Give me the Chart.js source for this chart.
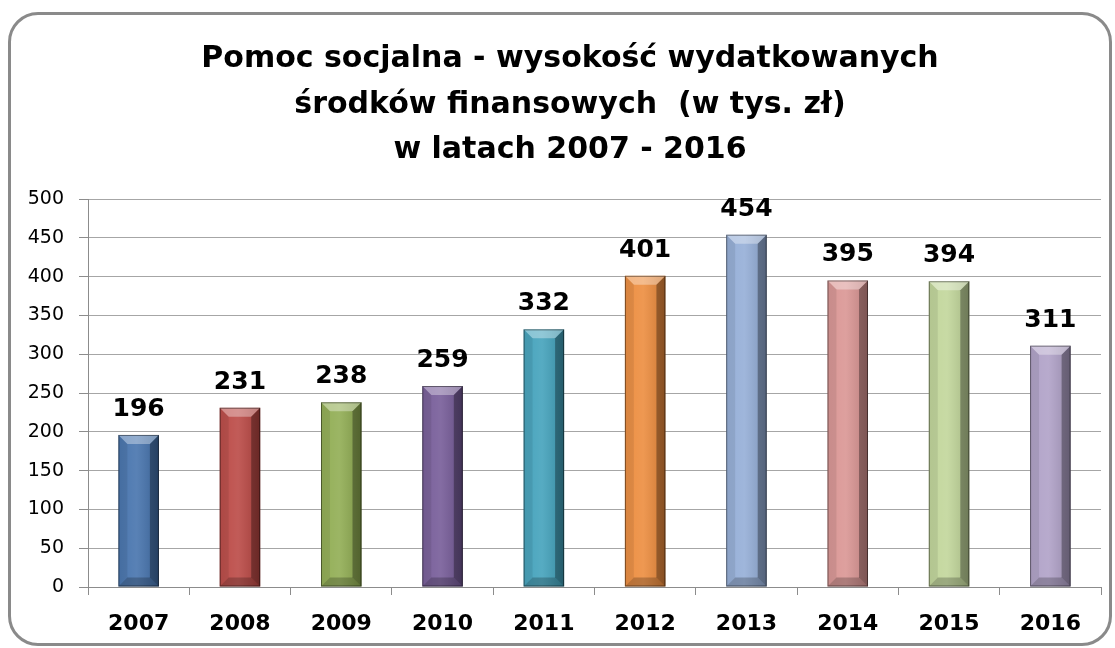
<!DOCTYPE html>
<html>
<head>
<meta charset="utf-8">
<script src="https://cdn.jsdelivr.net/npm/chart.js@4.4.0/dist/chart.umd.min.js"></script>
<style>
  html, body { margin: 0; padding: 0; background: #fff; }
  #wrap { position: relative; width: 1115px; height: 648px; }
  #frame {
    position: absolute; left: 8px; top: 12px; width: 1098px; height: 628px;
    border: 3px solid #8a8a8a; border-radius: 30px; pointer-events: none;
  }
  canvas { position: absolute; left: 0; top: 0; }
</style>
</head>
<body>
<div id="wrap">
  <canvas id="chart" width="1115" height="648"></canvas>
  <div id="frame"></div>
</div>
<script>
const years = ['2007', '2008', '2009', '2010', '2011', '2012', '2013', '2014', '2015', '2016'];
const amounts = [196, 231, 238, 259, 332, 401, 454, 395, 394, 311];
const barColors = ['#4270ab', '#b94541', '#8eab4f', '#735896', '#3fa0ba', '#ec8a3a', '#92acd6', '#d99391', '#c0d598', '#ae9fc6'];
const titleLines = ['Pomoc socjalna - wysokość wydatkowanych', 'środków finansowych  (w tys. zł)', 'w latach 2007 - 2016'];

const FONT = "'DejaVu Sans', 'Open Sans', sans-serif";

// title is drawn by hand: in the original it is not centred on the canvas
const titleText = {
    id: 'titleText',
    afterDraw(chart) {
        const ctx = chart.ctx;
        ctx.save();
        ctx.font = 'bold 30px ' + FONT;
        ctx.fillStyle = '#000';
        ctx.textAlign = 'center';
        ctx.textBaseline = 'alphabetic';
        titleLines.forEach((line, i) => ctx.fillText(line, 570, 67 + i * 45.5));
        ctx.restore();
    }
};

// bevel / shading over each bar, like the Excel style
const bevelPlugin = {
    id: 'bevel',
    afterDatasetsDraw(chart) {
        const ctx = chart.ctx;
        chart.getDatasetMeta(0).data.forEach(bar => {
            const x0 = bar.x - bar.width / 2;
            const x1 = bar.x + bar.width / 2;
            const y0 = bar.y;
            const y1 = bar.base;
            const b = 9;
            ctx.save();
            const g = ctx.createLinearGradient(x0, 0, x1, 0);
            g.addColorStop(0, 'rgba(255,255,255,0.05)');
            g.addColorStop(0.45, 'rgba(255,255,255,0.12)');
            g.addColorStop(1, 'rgba(0,0,0,0.15)');
            ctx.fillStyle = g;
            ctx.fillRect(x0, y0, x1 - x0, y1 - y0);

            const poly = (pts, fill) => {
                ctx.beginPath();
                ctx.moveTo(pts[0][0], pts[0][1]);
                pts.slice(1).forEach(p => ctx.lineTo(p[0], p[1]));
                ctx.closePath();
                ctx.fillStyle = fill;
                ctx.fill();
            };
            poly([[x0, y0], [x1, y0], [x1 - b, y0 + b], [x0 + b, y0 + b]], 'rgba(255,255,255,0.35)');
            poly([[x0, y0], [x0 + b, y0 + b], [x0 + b, y1 - b], [x0, y1]], 'rgba(0,0,0,0.08)');
            poly([[x1, y0], [x1 - b, y0 + b], [x1 - b, y1 - b], [x1, y1]], 'rgba(0,0,0,0.32)');
            poly([[x0, y1], [x0 + b, y1 - b], [x1 - b, y1 - b], [x1, y1]], 'rgba(0,0,0,0.22)');

            ctx.strokeStyle = 'rgba(0,0,0,0.45)';
            ctx.lineWidth = 1;
            ctx.strokeRect(x0 + 0.5, y0 + 0.5, x1 - x0 - 1, y1 - y0 - 1);
            ctx.restore();
        });
    }
};

// value above every bar
const valueLabels = {
    id: 'valueLabels',
    afterDatasetsDraw(chart) {
        const ctx = chart.ctx;
        ctx.save();
        ctx.font = 'bold 25px ' + FONT;
        ctx.fillStyle = '#000';
        ctx.textAlign = 'center';
        ctx.textBaseline = 'alphabetic';
        chart.getDatasetMeta(0).data.forEach((bar, i) => {
            ctx.fillText(String(amounts[i]), bar.x, bar.y - 19);
        });
        ctx.restore();
    }
};

new Chart(document.getElementById('chart'), {
    type: 'bar',
    data: {
        labels: years,
        datasets: [{
            data: amounts,
            backgroundColor: barColors,
            borderWidth: 0,
            barPercentage: 0.4,
            categoryPercentage: 1
        }]
    },
    options: {
        responsive: false,
        animation: false,
        layout: { padding: { left: 0, right: 14, top: 199, bottom: 0 } },
        plugins: {
            legend: { display: false },
            tooltip: { enabled: false },
            title: { display: false }
        },
        scales: {
            y: {
                min: 0,
                max: 500,
                ticks: { stepSize: 50, color: '#000', font: { family: FONT, size: 19 }, padding: 15 },
                grid: { color: '#a6a6a6', tickLength: 9, tickColor: '#8c8c8c' },
                border: { color: '#8c8c8c' },
                afterFit(scale) { scale.width = 88; }
            },
            x: {
                ticks: { color: '#000', font: { family: FONT, size: 22, weight: 'bold' }, padding: 16 },
                grid: { drawOnChartArea: false, tickLength: 8, color: '#8c8c8c' },
                border: { color: '#8c8c8c' },
                afterFit(scale) { scale.height = 61; }
            }
        }
    },
    plugins: [bevelPlugin, valueLabels, titleText]
});
</script>
</body>
</html>
